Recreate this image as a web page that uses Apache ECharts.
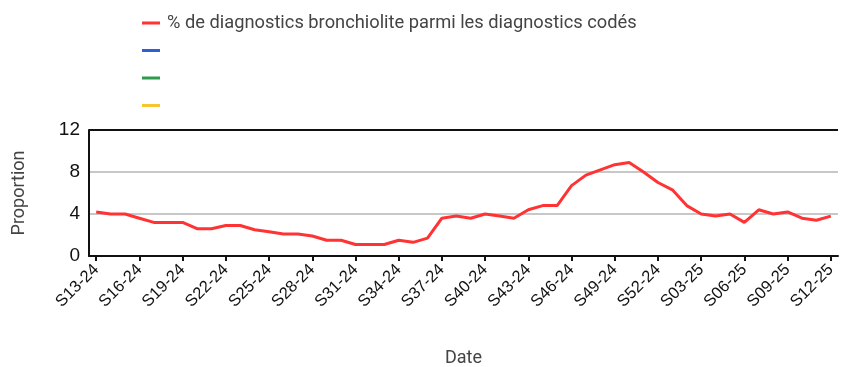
<!DOCTYPE html>
<html>
<head>
<meta charset="utf-8">
<style>
  html, body { margin: 0; padding: 0; background: #fff; }
  #chart { width: 842px; height: 367px; }
</style>
<script src="https://cdn.jsdelivr.net/npm/echarts@6/dist/echarts.min.js"></script>
</head>
<body>
<div id="chart"></div>
<script>
// Weekly labels, S13-24 through S12-25
const weeks = [
  'S13-24','S14-24','S15-24','S16-24','S17-24','S18-24','S19-24','S20-24','S21-24','S22-24',
  'S23-24','S24-24','S25-24','S26-24','S27-24','S28-24','S29-24','S30-24','S31-24','S32-24',
  'S33-24','S34-24','S35-24','S36-24','S37-24','S38-24','S39-24','S40-24','S41-24','S42-24',
  'S43-24','S44-24','S45-24','S46-24','S47-24','S48-24','S49-24','S50-24','S51-24','S52-24',
  'S01-25','S02-25','S03-25','S04-25','S05-25','S06-25','S07-25','S08-25','S09-25','S10-25',
  'S11-25','S12-25'
];

// % of coded diagnoses that are bronchiolitis
const bronchiolite = [
  4.2, 4.0, 4.0, 3.6, 3.2, 3.2, 3.2, 2.6, 2.6, 2.9,
  2.9, 2.5, 2.3, 2.1, 2.1, 1.9, 1.5, 1.5, 1.1, 1.1,
  1.1, 1.5, 1.3, 1.7, 3.6, 3.8, 3.6, 4.0, 3.8, 3.6,
  4.4, 4.8, 4.8, 6.7, 7.7, 8.2, 8.7, 8.9, 8.0, 7.0,
  6.3, 4.8, 4.0, 3.8, 4.0, 3.2, 4.4, 4.0, 4.2, 3.6,
  3.4, 3.8
];

const seriesNames = ['% de diagnostics bronchiolite parmi les diagnostics codés', '\u200b', '\u200b\u200b', '\u200b\u200b\u200b'];
const seriesColors = ['#ff3333', '#2a5fd8', '#2f9a4c', '#f7c531'];
const yTicks = { min: 0, max: 12, interval: 4 };

const axisFont = 'Liberation Sans, Arial, sans-serif';
const titleFont = 'Roboto, Liberation Sans, sans-serif';

const chart = echarts.init(document.getElementById('chart'));

const series = seriesNames.map((name, i) => ({
  name: name,
  type: 'line',
  data: i === 0 ? bronchiolite : [],
  symbol: 'none',
  color: seriesColors[i],
  lineStyle: { width: 3, color: seriesColors[i] },
  z: 5
}));

chart.setOption({
  animation: false,
  textStyle: { fontFamily: axisFont },
  legend: {
    orient: 'vertical',
    left: 142,
    top: 14,
    padding: 0,
    itemGap: 9.5,
    itemWidth: 18,
    itemHeight: 3,
    icon: 'rect',
    data: seriesNames,
    textStyle: { fontSize: 18.3, color: '#444', fontFamily: titleFont, padding: [0, 0, 0, 2] }
  },
  grid: { left: 89, right: 4, top: 130, bottom: 111, containLabel: false, outerBoundsMode: 'none' },
  xAxis: {
    type: 'category',
    data: weeks,
    boundaryGap: true,
    name: 'Date',
    nameLocation: 'middle',
    nameGap: 93,
    nameTextStyle: { fontSize: 18, color: '#444', fontFamily: titleFont },
    axisLine: { lineStyle: { color: '#111', width: 2 } },
    axisTick: { show: true, interval: 2, alignWithLabel: true, length: 5, lineStyle: { color: '#111', width: 2 } },
    axisLabel: { interval: 2, rotate: 45, fontSize: 16.5, color: '#111', margin: 11, fontFamily: axisFont },
    splitLine: { show: false }
  },
  yAxis: {
    type: 'value',
    min: yTicks.min,
    max: yTicks.max,
    interval: yTicks.interval,
    name: 'Proportion',
    nameLocation: 'middle',
    nameGap: 61,
    nameTextStyle: { fontSize: 18, color: '#444', fontFamily: titleFont },
    axisLine: { show: true, lineStyle: { color: '#111', width: 2 } },
    axisTick: { show: false },
    axisLabel: { fontSize: 19, color: '#111', margin: 9, fontFamily: axisFont },
    splitLine: { show: true, lineStyle: { color: ['#c8c8c8', '#c8c8c8', '#c8c8c8', '#111'], width: 2 } }
  },
  series: series
});
</script>
</body>
</html>
